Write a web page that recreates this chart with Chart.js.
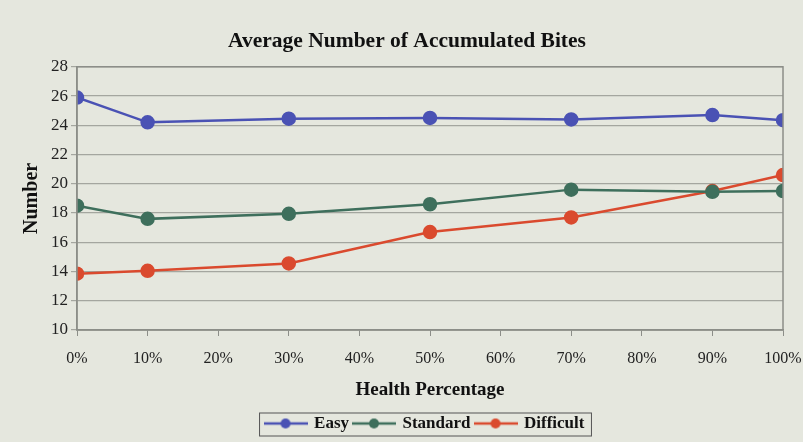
<!DOCTYPE html>
<html>
<head>
<meta charset="utf-8">
<script src="https://cdn.jsdelivr.net/npm/chart.js@4"></script>
<style>
  html, body { margin: 0; padding: 0; background: #e5e7de; }
  #wrap { width: 803px; height: 442px; }
</style>
</head>
<body>
<div id="wrap"><canvas id="chartCanvas" width="803" height="442"></canvas></div>
<script>
const healthPct  = [0, 10, 30, 50, 70, 90, 100];
const easy       = [25.9, 24.2, 24.45, 24.5, 24.4, 24.7, 24.35];
const standard   = [18.5, 17.6, 17.95, 18.6, 19.6, 19.45, 19.5];
const difficult  = [13.85, 14.05, 14.55, 16.7, 17.7, 19.5, 20.6];
const seriesNames  = ['Easy', 'Standard', 'Difficult'];
const seriesColors = ['#4a52b4', '#3e6f5c', '#da4a2e'];

const serif = '"Liberation Serif", "Times New Roman", serif';
const LEGEND_SHIFT = 18;

// legend marker: line with a dot in the middle
function makeMarker(color) {
  const c = document.createElement('canvas');
  c.width = 44; c.height = 12;
  const g = c.getContext('2d');
  g.strokeStyle = color;
  g.lineWidth = 2.5;
  g.beginPath(); g.moveTo(0, 6); g.lineTo(44, 6); g.stroke();
  g.fillStyle = color;
  g.beginPath(); g.arc(22, 6, 5, 0, Math.PI * 2); g.fill();
  return c;
}
const markers = seriesColors.map(makeMarker);

function toPoints(values) {
  return healthPct.map((x, i) => ({ x, y: values[i] }));
}

const paperBg = {
  id: 'paperBg',
  afterLayout(chart) {
    // legend sits a bit right of the page centre, under the plot
    chart.legend.left += LEGEND_SHIFT;
    chart.legend.right += LEGEND_SHIFT;
  },
  beforeDraw(chart) {
    const ctx = chart.ctx;
    ctx.save();
    ctx.fillStyle = '#e5e7de';
    ctx.fillRect(0, 0, chart.width, chart.height);
    ctx.restore();
  },
  afterDraw(chart) {
    const ctx = chart.ctx;
    const a = chart.chartArea;
    ctx.save();
    ctx.strokeStyle = '#8c8e88';
    ctx.lineWidth = 1.5;
    ctx.strokeRect(a.left, a.top, a.right - a.left, a.bottom - a.top);
    // legend frame
    const boxes = chart.legend.legendHitBoxes;
    if (boxes && boxes.length) {
      const l = Math.min(...boxes.map(b => b.left)) - 6;
      const r = Math.max(...boxes.map(b => b.left + b.width)) + 7;
      const t = Math.min(...boxes.map(b => b.top)) - 2;
      const bt = Math.max(...boxes.map(b => b.top + b.height)) + 4;
      ctx.strokeStyle = '#555';
      ctx.lineWidth = 1;
      ctx.strokeRect(l, t, r - l, bt - t);
    }
    ctx.restore();
  }
};

const datasets = [easy, standard, difficult].map((vals, i) => ({
  label: seriesNames[i],
  data: toPoints(vals),
  borderColor: seriesColors[i],
  backgroundColor: seriesColors[i],
  borderWidth: 2.5,
  pointRadius: 6,
  pointHoverRadius: 6,
  pointStyle: 'circle',
  tension: 0,
}));

new Chart(document.getElementById('chartCanvas').getContext('2d'), {
  type: 'line',
  data: { datasets },
  options: {
    responsive: false,
    animation: false,
    layout: { padding: { left: 20, right: 9, top: 28.5, bottom: 0 } },
    plugins: {
      title: {
        display: true,
        text: 'Average Number of Accumulated Bites',
        color: '#111',
        font: { family: serif, size: 21.5, weight: 'bold' },
        padding: { top: 0, bottom: 12.5 },
      },
      legend: {
        position: 'bottom',
        labels: {
          color: '#111',
          font: { family: serif, size: 17, weight: 'bold' },
          usePointStyle: true,
          pointStyleWidth: 40,
          padding: 5,
          generateLabels(chart) {
            const items = Chart.defaults.plugins.legend.labels.generateLabels(chart);
            items.forEach((it, i) => { it.pointStyle = markers[i]; });
            return items;
          },
        },
      },
      tooltip: { enabled: false },
    },
    scales: {
      x: {
        type: 'linear',
        min: 0,
        max: 100,
        afterFit(scale) {
          // let the "100%" label run into the page margin
          scale.paddingRight = 20;
        },
        grid: { drawOnChartArea: false, drawTicks: true, tickLength: 6, color: '#8c8e88' },
        border: { color: '#8c8e88', width: 1.5 },
        ticks: {
          stepSize: 10,
          padding: 13.4,
          color: '#222',
          font: { family: serif, size: 16 },
          callback: v => v + '%',
        },
        title: {
          display: true,
          text: 'Health Percentage',
          color: '#111',
          font: { family: serif, size: 19, weight: 'bold', lineHeight: 0.842 },
          padding: { top: 0, bottom: 12 },
        },
      },
      y: {
        min: 10,
        max: 28,
        grid: { color: '#a4a69f', lineWidth: 1.2, tickLength: 6 },
        border: { color: '#8c8e88', width: 1.5 },
        ticks: {
          stepSize: 2,
          padding: 3,
          color: '#222',
          font: { family: serif, size: 17 },
        },
        title: {
          display: true,
          text: 'Number',
          color: '#111',
          font: { family: serif, size: 20, weight: 'bold' },
          padding: { top: 0, bottom: 4 },
        },
      },
    },
  },
  plugins: [paperBg],
});
</script>
</body>
</html>
